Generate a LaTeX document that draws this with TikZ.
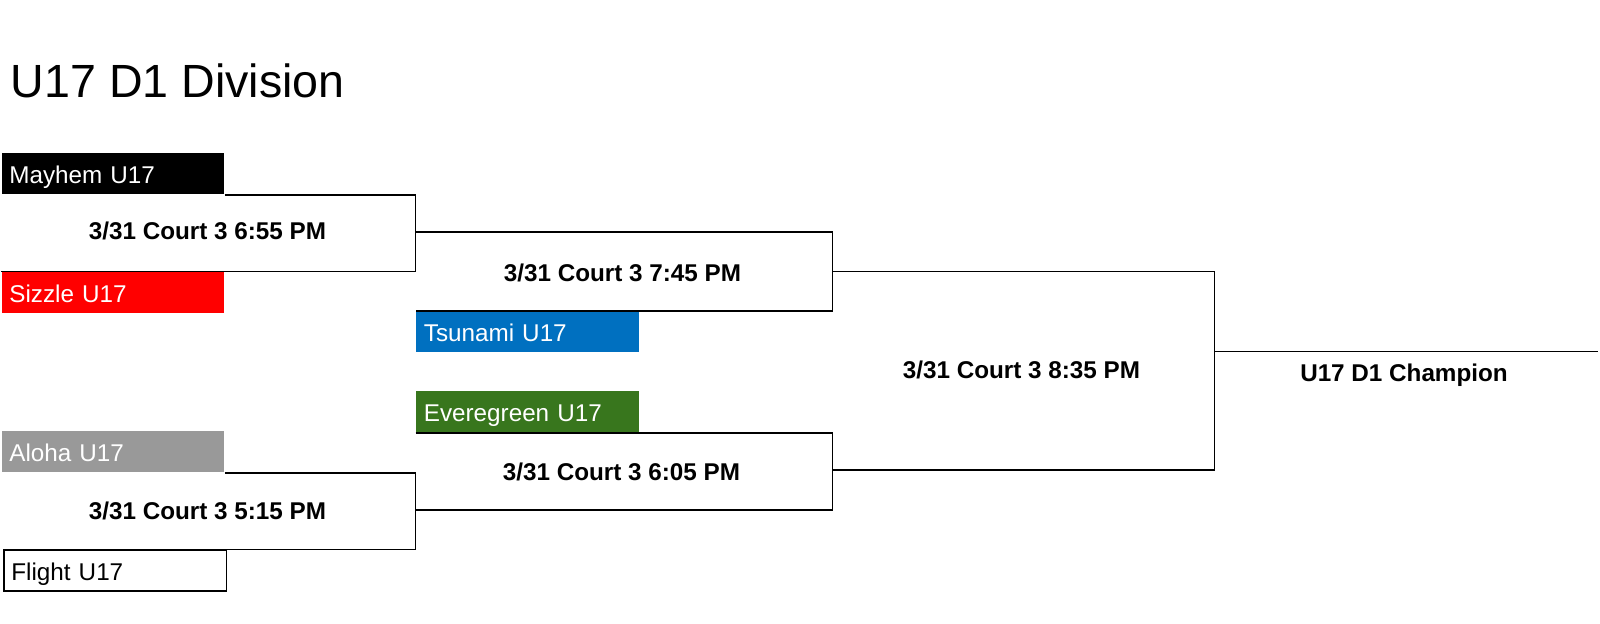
\documentclass[tikz,border=0pt]{standalone}
\usepackage{fontspec}
\setmainfont{Liberation Sans}

\definecolor{tsunamiblue}{HTML}{0070C0}
\definecolor{evergreen}{HTML}{38761D}
\definecolor{alohagray}{HTML}{999999}

\begin{document}
\begin{tikzpicture}[
    line width=1pt,
    team/.style={rectangle, anchor=north west, text width=4.15cm, align=left,
                 inner xsep=0.15cm, inner ysep=0pt, text height=0.6cm, text depth=0.21cm,
                 font=\fontsize{13.8}{16}\selectfont, text=white},
    game/.style={anchor=base, font=\fontsize{13.8}{16}\selectfont\bfseries}
]
    \useasboundingbox (0,0) rectangle (32,12.46);

    \node[anchor=base west, inner sep=0pt, font=\fontsize{26.5}{30}\selectfont] (title) at (0.2, 10.51) {U17 D1 Division};

    % Teams
    \node[team, fill=black]       (mayhem)     at (0.02, 9.41) {Mayhem U17};
    \node[team, fill=red]         (sizzle)     at (0.02, 7.03) {Sizzle U17};
    \node[team, fill=tsunamiblue] (tsunami)    at (8.31, 6.24) {Tsunami U17};
    \node[team, fill=evergreen]   (everegreen) at (8.31, 4.65) {Everegreen U17};
    \node[team, fill=alohagray]   (aloha)      at (0.02, 3.85) {Aloha U17};
    \node[team, fill=white, draw=black, text=black] (flight) at (0.06, 1.47) {Flight U17};

    % First round
    \draw (mayhem.south east) -| (8.31, 7.03) -- (sizzle.north west);
    \draw (aloha.south east)  -| (8.31, 1.47) -- (flight.north west);

    % Second round
    \draw (8.31, 7.82) -| (16.65, 6.24) -- (tsunami.north west);
    \draw (everegreen.south west) -| (16.65, 2.26) -- (8.31, 2.26);

    % Final
    \draw (16.65, 7.03) -| (24.29, 3.06) -- (16.65, 3.06);
    \draw (24.29, 5.43) -- (31.96, 5.43);

    % Games
    \node[game] (g1) at (4.15, 7.66)  {3/31 Court 3 6:55 PM};
    \node[game] (g2) at (4.15, 2.07)  {3/31 Court 3 5:15 PM};
    \node[game] (g3) at (12.45, 6.83) {3/31 Court 3 7:45 PM};
    \node[game] (g4) at (12.43, 2.86) {3/31 Court 3 6:05 PM};
    \node[game] (g5) at (20.43, 4.89) {3/31 Court 3 8:35 PM};
    \node[game] (champ) at (28.08, 4.84) {U17 D1 Champion};
\end{tikzpicture}
\end{document}
